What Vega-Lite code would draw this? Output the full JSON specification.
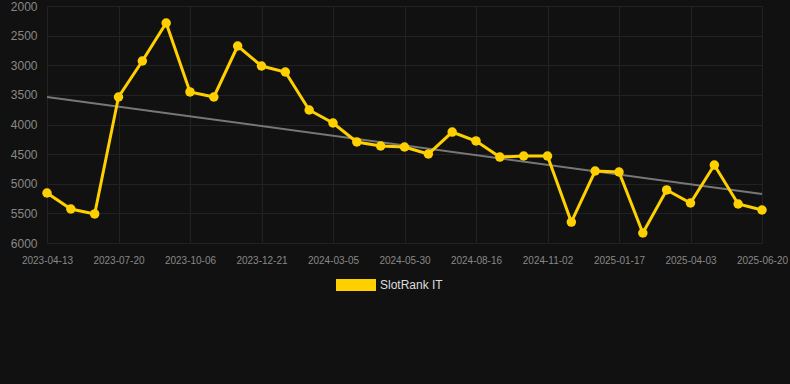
{
  "$schema": "https://vega.github.io/schema/vega-lite/v6.json",
  "width": 750,
  "height": 237,
  "padding": {"left": 40, "top": 6, "right": 0, "bottom": 141},
  "autosize": {"type": "none"},
  "background": "#111111",
  "config": {
    "view": {"stroke": null},
    "font": "Liberation Sans",
    "axis": {"domain": false, "ticks": false, "gridColor": "#222222", "gridWidth": 1, "labelColor": "#888888", "labelFont": "Liberation Sans"}
  },
  "data": {
    "values": [
      {"date": "2023-04-13", "rank": 5156, "trend": 3536},
      {"date": "2023-05-20", "rank": 5426},
      {"date": "2023-06-22", "rank": 5510},
      {"date": "2023-07-20", "rank": 3536},
      {"date": "2023-08-15", "rank": 2928},
      {"date": "2023-09-10", "rank": 2287},
      {"date": "2023-10-06", "rank": 3451},
      {"date": "2023-10-31", "rank": 3536},
      {"date": "2023-11-26", "rank": 2675},
      {"date": "2023-12-21", "rank": 3013},
      {"date": "2024-01-15", "rank": 3114},
      {"date": "2024-02-09", "rank": 3755},
      {"date": "2024-03-05", "rank": 3975},
      {"date": "2024-04-03", "rank": 4295},
      {"date": "2024-05-01", "rank": 4363},
      {"date": "2024-05-30", "rank": 4380},
      {"date": "2024-06-25", "rank": 4498},
      {"date": "2024-07-21", "rank": 4127},
      {"date": "2024-08-16", "rank": 4278},
      {"date": "2024-09-11", "rank": 4549},
      {"date": "2024-10-07", "rank": 4532},
      {"date": "2024-11-02", "rank": 4532},
      {"date": "2024-11-27", "rank": 5646},
      {"date": "2024-12-22", "rank": 4785},
      {"date": "2025-01-17", "rank": 4802},
      {"date": "2025-02-11", "rank": 5831},
      {"date": "2025-03-08", "rank": 5105},
      {"date": "2025-04-03", "rank": 5325},
      {"date": "2025-04-29", "rank": 4684},
      {"date": "2025-05-25", "rank": 5342},
      {"date": "2025-06-20", "rank": 5443, "trend": 5173}
    ]
  },
  "encoding": {
    "x": {
      "field": "date", "type": "ordinal",
      "scale": {"type": "point", "range": [7, 722], "padding": 0},
      "sort": "ascending",
      "axis": {
        "title": null, "labelAngle": 0, "labelFontSize": 10, "labelPadding": 12,
        "values": ["2023-04-13","2023-07-20","2023-10-06","2023-12-21","2024-03-05","2024-05-30","2024-08-16","2024-11-02","2025-01-17","2025-04-03","2025-06-20"],
        "grid": true
      }
    },
    "y": {
      "field": "rank", "type": "quantitative",
      "scale": {"domain": [2000, 6000], "reverse": true, "nice": false, "zero": false},
      "axis": {"title": null, "format": "d", "labelFontSize": 12, "labelPadding": 3, "labelOverlap": false, "values": [2000,2500,3000,3500,4000,4500,5000,5500,6000]}
    }
  },
  "layer": [
    {
      "mark": {"type": "line", "color": "#777777", "strokeWidth": 2, "invalid": "filter"},
      "encoding": {
        "y": {"field": "trend", "type": "quantitative",
          "scale": {"domain": [2000, 6000], "reverse": true, "nice": false, "zero": false},
          "axis": {"title": null, "format": "d", "labelFontSize": 12, "labelPadding": 3, "labelOverlap": false, "values": [2000,2500,3000,3500,4000,4500,5000,5500,6000]}}
      }
    },
    {
      "mark": {"type": "line", "strokeWidth": 3},
      "encoding": {
        "color": {
          "datum": "SlotRank IT", "type": "nominal",
          "scale": {"range": ["#ffd000"]},
          "legend": {
            "title": null, "orient": "none", "legendX": 296, "legendY": 259,
            "symbolType": "M-1,-0.3H1V0.3H-1Z", "symbolSize": 1600, "symbolStrokeWidth": 0,
            "symbolFillColor": "#ffd000", "labelColor": "#dddddd", "labelFontSize": 12, "labelFont": "Liberation Sans"
          }
        }
      }
    },
    {
      "mark": {"type": "point", "filled": true, "size": 90, "opacity": 1, "color": "#ffd000"},
      "encoding": {}
    }
  ]
}
